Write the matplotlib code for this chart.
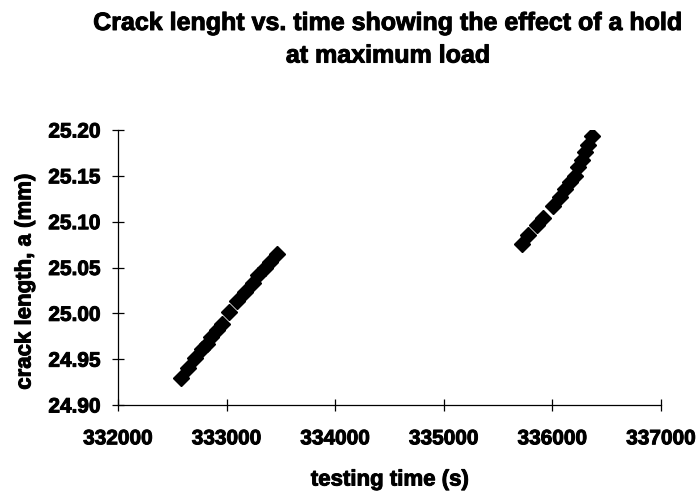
import matplotlib
matplotlib.use("Agg")
import matplotlib.pyplot as plt
import matplotlib.patheffects as pe

# Data
time_before = [332580, 332640, 332710, 332770, 332815, 332860, 332910, 332955,
               333020, 333100, 333165, 333240, 333290, 333350, 333400, 333465]
crack_before = [24.930, 24.940, 24.951, 24.961, 24.967, 24.974, 24.982, 24.988,
                25.001, 25.014, 25.023, 25.033, 25.042, 25.049, 25.056, 25.065]
time_after = [335717, 335778, 335855, 335916, 336008, 336070, 336116, 336162,
              336208, 336238, 336270, 336300, 336331, 336362]
crack_after = [25.076, 25.085, 25.096, 25.104, 25.117, 25.127, 25.136, 25.143,
               25.150, 25.160, 25.167, 25.176, 25.184, 25.193]
x_ticks = [332000, 333000, 334000, 335000, 336000, 337000]
y_ticks = [24.90, 24.95, 25.00, 25.05, 25.10, 25.15, 25.20]

title = "Crack lenght vs. time showing the effect of a hold\nat maximum load"
xlabel = "testing time (s)"
ylabel = "crack length, a (mm)"

plt.rcParams['font.family'] = ['Liberation Sans', 'DejaVu Sans']
plt.rcParams['font.weight'] = 'bold'

heavy = [pe.withStroke(linewidth=0.7, foreground='black')]

fig = plt.figure(figsize=(6.99, 4.95), dpi=100)
ax = fig.add_axes([118/699, 1-405/495, (661-118)/699, (405-130)/495])

for t, c in [(time_before, crack_before), (time_after, crack_after)]:
    ax.plot(t, c, linestyle='none', marker='D', markersize=8,
            color='black', markeredgecolor='black')

ax.set_xlim(332000, 337000)
ax.set_ylim(24.90, 25.20)
ax.set_xticks(x_ticks)
ax.set_xticklabels([str(v) for v in x_ticks], fontsize=15, fontweight='bold')
ax.set_yticks(y_ticks)
ax.set_yticklabels([f"{v:.2f}" for v in y_ticks], fontsize=15, fontweight='bold')
for lab in ax.get_xticklabels() + ax.get_yticklabels():
    lab.set_path_effects(heavy)
ax.tick_params(axis='both', direction='inout', length=9, width=0.9, colors='black')
ax.tick_params(axis='x', pad=13)
ax.tick_params(axis='y', pad=8)

for s in ['top', 'right']:
    ax.spines[s].set_visible(False)
for s in ['left', 'bottom']:
    ax.spines[s].set_linewidth(0.9)

ax.set_xlabel(xlabel, fontsize=16, fontweight='bold', path_effects=heavy)
ax.xaxis.label.set_va('center')
ax.xaxis.set_label_coords(0.5, (405-480)/275)
ax.set_ylabel(ylabel, fontsize=16, fontweight='bold', path_effects=heavy)
ax.yaxis.label.set_va('center')
ax.yaxis.set_label_coords((25-118)/543, (405-282)/275)

fig.text(388/699, 1-11/495, title, ha='center', va='top',
         fontsize=18, fontweight='bold', linespacing=1.45, path_effects=heavy)

fig.savefig("out.png", dpi=100)
